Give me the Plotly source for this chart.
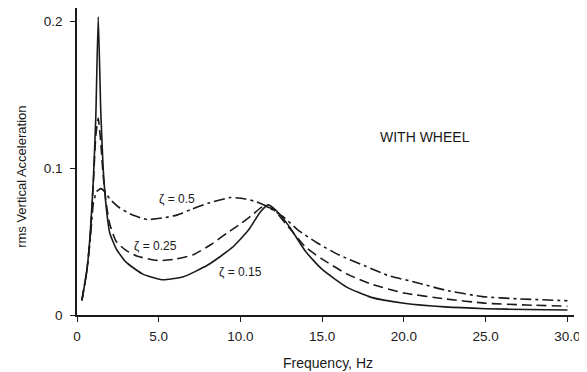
import plotly.graph_objects as go

# zeta = 0.15 (solid)
freq_015 = [0.3, 0.6, 0.8, 1.0, 1.15, 1.3, 1.45, 1.6, 1.8, 2.0, 2.4, 3.0, 4.0, 5.2, 6.5, 8.0, 9.5, 10.5, 11.2, 11.7, 12.2, 13.0, 14.0, 15.0, 16.5, 18.0, 20.0, 22.5, 25.0, 27.5, 30.0]
acc_015 = [0.010, 0.030, 0.054, 0.092, 0.135, 0.203, 0.140, 0.100, 0.072, 0.056, 0.045, 0.036, 0.028, 0.024, 0.026, 0.034, 0.046, 0.058, 0.070, 0.075, 0.071, 0.060, 0.043, 0.031, 0.019, 0.012, 0.008, 0.0055, 0.0043, 0.0037, 0.0034]

# zeta = 0.25 (dashed)
freq_025 = [0.3, 0.6, 0.8, 1.0, 1.15, 1.3, 1.45, 1.6, 1.8, 2.0, 2.4, 3.0, 3.7, 5.0, 6.0, 7.1, 8.2, 9.2, 10.0, 10.7, 11.4, 12.0, 13.0, 14.0, 15.0, 16.5, 18.0, 20.0, 22.5, 25.0, 27.5, 30.0]
acc_025 = [0.010, 0.030, 0.053, 0.090, 0.122, 0.134, 0.118, 0.095, 0.075, 0.062, 0.050, 0.044, 0.040, 0.037, 0.038, 0.041, 0.048, 0.056, 0.062, 0.068, 0.074, 0.072, 0.059, 0.046, 0.038, 0.028, 0.021, 0.015, 0.011, 0.008, 0.0068, 0.006]

# zeta = 0.5 (dash-dot)
freq_05 = [0.3, 0.6, 0.8, 1.0, 1.2, 1.45, 1.7, 2.0, 2.6, 3.4, 4.3, 5.2, 6.1, 7.0, 8.0, 9.4, 10.3, 11.0, 11.6, 12.6, 13.5, 14.7, 16.0, 17.7, 19.0, 20.8, 22.5, 24.8, 27.0, 30.0]
acc_05 = [0.010, 0.030, 0.050, 0.076, 0.084, 0.086, 0.084, 0.079, 0.073, 0.068, 0.065, 0.066, 0.068, 0.072, 0.076, 0.080, 0.079, 0.077, 0.074, 0.067, 0.058, 0.049, 0.041, 0.033, 0.027, 0.022, 0.017, 0.0125, 0.011, 0.0097]

x_ticks = [0, 5, 10, 15, 20, 25, 30]
x_tick_text = ["0", "5.0", "10.0", "15.0", "20.0", "25.0", "30.0"]
y_ticks = [0, 0.1, 0.2]
y_tick_text = ["0", "0.1", "0.2"]

curve_labels = ["ζ = 0.5", "ζ = 0.25", "ζ = 0.15"]
label_pos = [(6.1, 0.079), (4.8, 0.047), (10.0, 0.029)]

INK = "#1a1a1a"
FONT = "Liberation Sans, Arial, sans-serif"

fig = go.Figure()
fig.add_trace(go.Scatter(x=freq_015, y=acc_015, mode="lines",
                         line=dict(color=INK, width=1.6, shape="spline", smoothing=0.5)))
fig.add_trace(go.Scatter(x=freq_025, y=acc_025, mode="lines",
                         line=dict(color=INK, width=1.6, dash="10px,5px", shape="spline", smoothing=0.5)))
fig.add_trace(go.Scatter(x=freq_05, y=acc_05, mode="lines",
                         line=dict(color=INK, width=1.6, dash="11px,4px,3px,4px", shape="spline", smoothing=0.5)))

annotations = []
for txt, (lx, ly) in zip(curve_labels, label_pos):
    annotations.append(dict(x=lx, y=ly, xref="x", yref="y", text=txt, showarrow=False,
                            font=dict(size=12, color=INK, family=FONT)))
annotations.append(dict(x=21.3, y=0.121, xref="x", yref="y", text="WITH WHEEL", showarrow=False,
                        font=dict(size=14, color=INK, family=FONT)))
annotations.append(dict(x=0, y=0.45, xref="paper", yref="paper", xshift=-55, text="rms Vertical Acceleration",
                        textangle=-90, showarrow=False, xanchor="center", yanchor="middle",
                        font=dict(size=13, color=INK, family=FONT)))
annotations.append(dict(x=0.505, y=0, xref="paper", yref="paper", yshift=-48, text="Frequency, Hz",
                        showarrow=False, xanchor="center", yanchor="middle",
                        font=dict(size=14, color=INK, family=FONT)))

fig.update_layout(
    width=579, height=364,
    margin=dict(l=69, r=13, t=0, b=57),
    paper_bgcolor="white", plot_bgcolor="white",
    showlegend=False,
    annotations=annotations,
    font=dict(family=FONT, size=13.5, color=INK),
)
fig.update_xaxes(range=[0, 30.4], tickvals=x_ticks, ticktext=x_tick_text,
                 showline=True, linecolor=INK, linewidth=1.6, ticks="outside", ticklen=5,
                 tickcolor=INK, tickwidth=1.4, showgrid=False, zeroline=False,
                 ticklabelstandoff=3)
fig.update_yaxes(range=[0, 0.209], tickvals=y_ticks, ticktext=y_tick_text,
                 showline=True, linecolor=INK, linewidth=1.6, ticks="outside", ticklen=5,
                 tickcolor=INK, tickwidth=1.4, showgrid=False, zeroline=False,
                 ticklabelstandoff=5)

fig.write_html("out.html")
